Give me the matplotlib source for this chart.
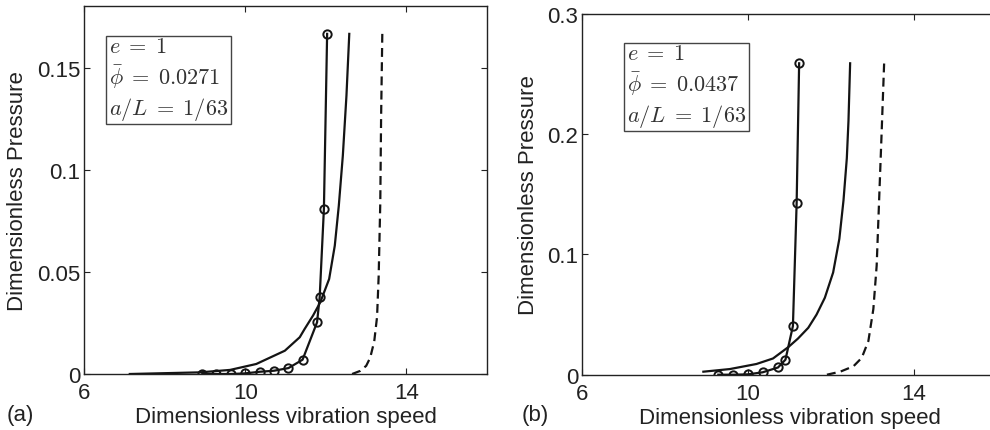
import matplotlib
matplotlib.use("Agg")
import matplotlib.pyplot as plt

plt.rcParams['font.family'] = ['Liberation Sans', 'DejaVu Sans']
plt.rcParams['mathtext.fontset'] = 'cm'

# ---- Panel (a) data ----
a_circ_x = [8.93, 9.28, 9.64, 9.99, 10.36, 10.71, 11.07, 11.42, 11.78, 11.845, 11.95, 12.03]
a_circ_y = [0.0, 0.0, 0.0, 0.0003, 0.0011, 0.0016, 0.0029, 0.0070, 0.0253, 0.0376, 0.0808, 0.1665]
a_sol_x = [7.13, 8.87, 9.62, 10.27, 10.98, 11.35, 11.47, 11.68, 11.86, 12.08, 12.22, 12.32, 12.42, 12.51, 12.58]
a_sol_y = [0.0, 0.0008, 0.002, 0.0049, 0.0114, 0.018, 0.022, 0.0286, 0.0351, 0.0465, 0.0628, 0.0824, 0.1069, 0.1363, 0.1665]
a_dash_x = [12.65, 12.85, 13.0, 13.1, 13.2, 13.27, 13.31, 13.35, 13.37, 13.40]
a_dash_y = [0.0, 0.0015, 0.004, 0.008, 0.016, 0.028, 0.048, 0.084, 0.125, 0.1665]
a_text = '$e\\;=\\;1$\n$\\bar{\\phi}\\;=\\;0.0271$\n$a/L\\;=\\;1/63$'

# ---- Panel (b) data ----
b_circ_x = [9.28, 9.64, 10.0, 10.35, 10.72, 10.90, 11.08, 11.17, 11.23]
b_circ_y = [0.0, 0.0, 0.0003, 0.002, 0.006, 0.0125, 0.0405, 0.143, 0.259]
b_sol_x = [8.92, 9.56, 10.2, 10.6, 10.97, 11.2, 11.45, 11.65, 11.85, 12.05, 12.2, 12.3, 12.38, 12.42, 12.46]
b_sol_y = [0.0025, 0.0047, 0.0089, 0.0135, 0.023, 0.030, 0.039, 0.050, 0.064, 0.085, 0.113, 0.145, 0.18, 0.211, 0.259]
b_dash_x = [11.9, 12.22, 12.54, 12.74, 12.9, 13.02, 13.1, 13.16, 13.22, 13.28]
b_dash_y = [0.0, 0.0025, 0.007, 0.014, 0.028, 0.0546, 0.0907, 0.146, 0.2016, 0.259]
b_text = '$e\\;=\\;1$\n$\\bar{\\phi}\\;=\\;0.0437$\n$a/L\\;=\\;1/63$'

xticks = [6, 10, 14]
a_yticks = [0, 0.05, 0.1, 0.15]
a_yticklabels = ['0', '0.05', '0.1', '0.15']
b_yticks = [0, 0.1, 0.2, 0.3]
b_yticklabels = ['0', '0.1', '0.2', '0.3']
xlabel = 'Dimensionless vibration speed'
ylabel = 'Dimensionless Pressure'

W, H = 990, 431
fig = plt.figure(figsize=(W / 100, H / 100), dpi=100)

def px_axes(l, t, r, b):
    return fig.add_axes([l / W, (H - b) / H, (r - l) / W, (b - t) / H])

ax1 = px_axes(84.3, 7.3, 487, 375)
ax2 = px_axes(582.3, 15, 582.3 + 414.6, 375.7)

lc = '#141414'
tc = '#222222'
fs = 16

def style(ax, ylim, yt, ytl):
    ax.set_xlim(6, 16)
    ax.set_ylim(*ylim)
    ax.set_xticks(xticks)
    ax.set_xticklabels([str(v) for v in xticks])
    ax.set_yticks(yt)
    ax.set_yticklabels(ytl)
    ax.tick_params(direction='in', top=True, right=True, labelsize=fs, length=4,
                   width=0.8, colors=tc)
    ax.tick_params(axis='x', pad=6)
    ax.tick_params(axis='y', pad=3)
    for s in ax.spines.values():
        s.set_linewidth(1.0)
        s.set_color(tc)
    ax.set_xlabel(xlabel, fontsize=fs, labelpad=2, color=tc)
    ax.set_ylabel(ylabel, fontsize=fs, labelpad=6, color=tc)

def draw(ax, cx, cy, sx, sy, dx, dy, txt, tx, ty):
    ax.plot(sx, sy, '-', color=lc, lw=1.6)
    ax.plot(dx, dy, '--', color=lc, lw=1.6, dashes=(4, 2.4))
    ax.plot(cx, cy, '-o', color=lc, lw=1.6, ms=6, mfc='none', mec=lc, mew=1.4)
    ax.text(tx, ty, txt, transform=ax.transAxes, ha='left', va='top', fontsize=16,
            color='#333333', linespacing=1.25,
            bbox=dict(boxstyle='square,pad=0.12', fc='white', ec='#444444', lw=1.0))

style(ax1, (0, 0.18), a_yticks, a_yticklabels)
draw(ax1, a_circ_x, a_circ_y, a_sol_x, a_sol_y, a_dash_x, a_dash_y, a_text,
     (109 - 84.3) / 402.7, 1 - (37 - 7.3) / 367.7)
style(ax2, (0, 0.3), b_yticks, b_yticklabels)
draw(ax2, b_circ_x, b_circ_y, b_sol_x, b_sol_y, b_dash_x, b_dash_y, b_text,
     (627 - 582.3) / 414.6, 1 - (44 - 15) / 360.7)

fig.text(7 / W, 1 - 416 / H, '(a)', fontsize=fs, va='center', ha='left', color=tc)
fig.text(522 / W, 1 - 416 / H, '(b)', fontsize=fs, va='center', ha='left', color=tc)

fig.savefig('out.png', dpi=100)
